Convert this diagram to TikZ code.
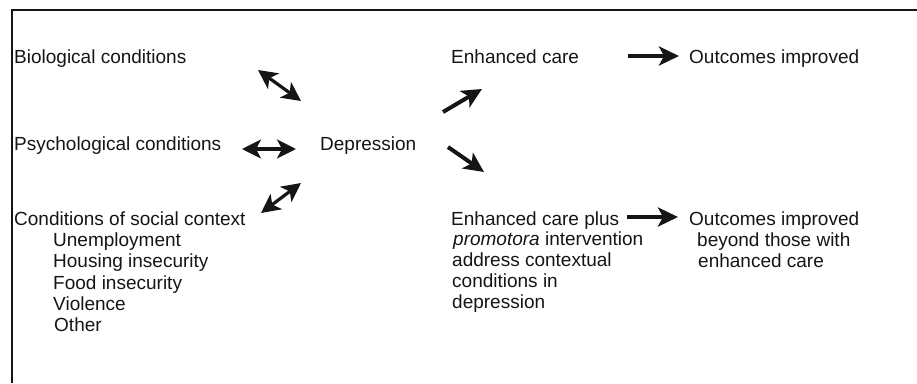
\documentclass[tikz,border=0pt]{standalone}
\usepackage{fontspec}
\setmainfont{Liberation Sans}
\usetikzlibrary{arrows.meta}
\definecolor{ink}{HTML}{151515}
\tikzset{
  lbl/.style={anchor=base west, inner sep=0pt, text=ink, font=\fontsize{19}{21}\selectfont},
  onearrow/.style={draw=ink, line width=4pt, -{Stealth[length=20pt,width=19pt,inset=5pt]}},
  twoarrow/.style={draw=ink, line width=3.2pt, {Stealth[length=19pt,width=19pt,inset=5pt]}-{Stealth[length=19pt,width=19pt,inset=5pt]}},
  frame/.style={draw=ink, line width=2.2pt}
}
\begin{document}
\begin{tikzpicture}[x=1pt,y=-1pt]
\useasboundingbox (0,0) rectangle (917,383);
% frame (top and left only)
\coordinate (fr1) at (12,383);
\coordinate (fr2) at (12,10);
\coordinate (fr3) at (917,10);
\draw[frame] (fr1) -- (fr2) -- (fr3);

% left column
\node[lbl] (bio) at (14,63) {Biological conditions};
\node[lbl] (psy) at (14,150) {Psychological conditions};
\node[lbl] (soc) at (14,225) {Conditions of social context};
\node[lbl] (s1) at (53,246.5) {Unemployment};
\node[lbl] (s2) at (53,267.8) {Housing insecurity};
\node[lbl] (s3) at (53,289.1) {Food insecurity};
\node[lbl] (s4) at (53,310.4) {Violence};
\node[lbl] (s5) at (54,331.7) {Other};

% centre
\node[lbl] (dep) at (320,150) {Depression};

% right column
\node[lbl] (ec) at (451,63) {Enhanced care};
\node[lbl] (oi) at (689,63) {Outcomes improved};
\node[lbl] (ecp1) at (451,225) {Enhanced care plus};
\node[lbl] (ecp2) at (453,245.5) {\itshape promotora\upshape{} intervention};
\node[lbl] (ecp3) at (452,266.5) {address contextual};
\node[lbl] (ecp4) at (452,287.5) {conditions in};
\node[lbl] (ecp5) at (452,308.5) {depression};
\node[lbl] (ob1) at (689,225) {Outcomes improved};
\node[lbl] (ob2) at (697,246.5) {beyond those with};
\node[lbl] (ob3) at (698,267.5) {enhanced care};

% arrow end points
\coordinate (a1s) at (258,70);  \coordinate (a1e) at (301,101);
\coordinate (a2s) at (242,149); \coordinate (a2e) at (296,149);
\coordinate (a3s) at (261,213); \coordinate (a3e) at (301,183);
\coordinate (b1s) at (443,112); \coordinate (b1e) at (482,89);
\coordinate (b2s) at (448,147); \coordinate (b2e) at (484,172);
\coordinate (c1s) at (628,56);  \coordinate (c1e) at (679,56);
\coordinate (c2s) at (627,217); \coordinate (c2e) at (678,217);

\draw[twoarrow] (a1s) -- (a1e);
\draw[twoarrow] (a2s) -- (a2e);
\draw[twoarrow] (a3s) -- (a3e);
\draw[onearrow] (b1s) -- (b1e);
\draw[onearrow] (b2s) -- (b2e);
\draw[onearrow] (c1s) -- (c1e);
\draw[onearrow] (c2s) -- (c2e);
\end{tikzpicture}
\end{document}
